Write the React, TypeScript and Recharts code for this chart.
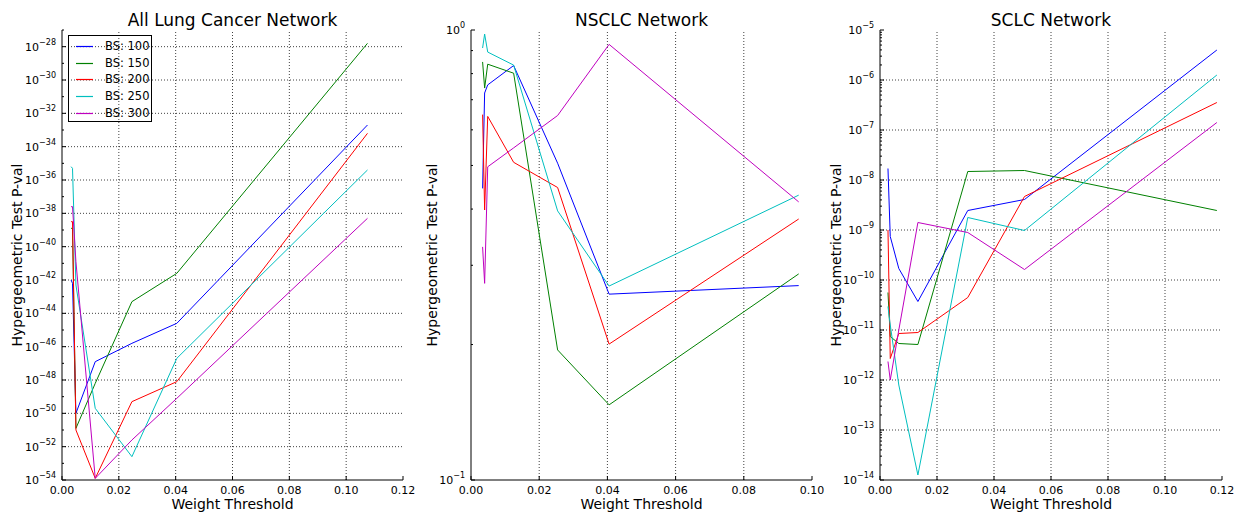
import React from 'react';
import { LineChart, Line, XAxis, YAxis, ReferenceLine } from 'recharts';

const FONT = '"DejaVu Sans", sans-serif';

const seriesNames = ['BS: 100', 'BS: 150', 'BS: 200', 'BS: 250', 'BS: 300'];
const seriesColors = ['#0000ff', '#008000', '#ff0000', '#00bfbf', '#bf00bf'];

// All Lung Cancer Network: weight thresholds and log10(p-value) per BS
const lungX = [0.0032, 0.0037, 0.0049, 0.0117, 0.0246, 0.0404, 0.1075];
const lung100 = [-42.0, -42.2, -50.0, -46.9, -45.8, -44.6, -32.7];
const lung150 = [-38.9, -38.9, -50.9, -48.2, -43.3, -41.6, -27.8];
const lung200 = [-38.5, -38.5, -51.0, -53.9, -49.3, -48.1, -33.2];
const lung250 = [-35.2, -35.3, -42.3, -49.7, -52.6, -46.7, -35.4];
const lung300 = [-37.6, -37.6, -40.9, -53.9, -51.6, -49.1, -38.3];

// NSCLC Network
const nsclcX = [0.0034, 0.004, 0.0049, 0.0125, 0.0254, 0.0405, 0.0961];
const nsclc100 = [-0.352, -0.14, -0.122, -0.079, -0.296, -0.587, -0.568];
const nsclc150 = [-0.071, -0.129, -0.076, -0.096, -0.711, -0.833, -0.542];
const nsclc200 = [-0.188, -0.4, -0.192, -0.294, -0.35, -0.698, -0.42];
const nsclc250 = [-0.04, -0.009, -0.049, -0.078, -0.402, -0.569, -0.367];
const nsclc300 = [-0.482, -0.563, -0.304, -0.262, -0.19, -0.032, -0.382];

// SCLC Network
const sclcX = [0.0028, 0.0036, 0.0066, 0.0133, 0.0308, 0.0507, 0.1182];
const sclc100 = [-7.77, -9.13, -9.77, -10.43, -8.61, -8.39, -5.4];
const sclc150 = [-10.25, -11.13, -11.27, -11.29, -7.83, -7.81, -8.61];
const sclc200 = [-9.0, -11.57, -11.07, -11.05, -10.35, -8.33, -6.45];
const sclc250 = [-10.53, -10.9, -12.1, -13.9, -8.75, -9.01, -5.9];
const sclc300 = [-11.63, -12.0, -11.0, -8.85, -9.05, -9.79, -6.85];

// axis ticks
const lungXTicks = [0, 0.02, 0.04, 0.06, 0.08, 0.1, 0.12];
const lungYMajor = [-54, -52, -50, -48, -46, -44, -42, -40, -38, -36, -34, -32, -30, -28];
const lungYMinor = [-53, -51, -49, -47, -45, -43, -41, -39, -37, -35, -33, -31, -29, -27];
const nsclcXTicks = [0, 0.02, 0.04, 0.06, 0.08, 0.1];
const nsclcYMajor = [-1, 0];
const sclcXTicks = [0, 0.02, 0.04, 0.06, 0.08, 0.1, 0.12];
const sclcYMajor = [-14, -13, -12, -11, -10, -9, -8, -7, -6, -5];

// log-scale minor tick positions (2..9 within each decade)
const logMinors = (lo: number, hi: number) => {
  const out: number[] = [];
  for (let d = lo; d < hi; d++) for (let k = 2; k <= 9; k++) out.push(d + Math.log10(k));
  return out;
};

const fmtExp = (v: number) => (v < 0 ? '\u2212' + Math.abs(v) : String(v));

type PanelProps = {
  left: number;
  width: number;
  plotLeft: number;
  plotRight: number;
  title: string;
  xMax: number;
  xTicks: number[];
  yMin: number;
  yMax: number;
  yMajor: number[];
  yMinor: number[];
  yGrid: boolean;
  yLabelX: number;
  xs: number[];
  ys: number[][];
  legend?: boolean;
};

function Panel(p: PanelProps) {
  const yTicks = [...p.yMajor, ...p.yMinor].sort((a, b) => a - b);
  const cx = (p.plotLeft + p.plotRight) / 2 - p.left;
  const isMajor = (v: number) => p.yMajor.some((m) => Math.abs(m - v) < 1e-9);

  const xTickBottom = (t: any) => (
    <g>
      <line x1={t.x} x2={t.x} y1={t.y} y2={t.y - 4} stroke="#000" />
      <text x={t.x} y={t.y + 13.5} textAnchor="middle" fontSize={11} fontFamily={FONT} fill="#000">
        {t.payload.value.toFixed(2)}
      </text>
    </g>
  );
  const xTickTop = (t: any) => <line x1={t.x} x2={t.x} y1={t.y} y2={t.y + 4} stroke="#000" />;
  const yTickLeft = (t: any) => {
    const major = isMajor(t.payload.value);
    return (
      <g>
        <line x1={t.x} x2={t.x + (major ? 4 : 2)} y1={t.y} y2={t.y} stroke="#000" />
        {major && (
          <text x={t.x - 6} y={t.y + 4} textAnchor="end" fontSize={11} fontFamily={FONT} fill="#000">
            10<tspan dy={-6} fontSize={8}>{fmtExp(t.payload.value)}</tspan>
          </text>
        )}
      </g>
    );
  };
  const yTickRight = (t: any) => {
    const major = isMajor(t.payload.value);
    return <line x1={t.x} x2={t.x - (major ? 4 : 2)} y1={t.y} y2={t.y} stroke="#000" />;
  };

  const gridX = p.xTicks.filter((v) => v > 0 && v < p.xMax);
  const gridY = p.yGrid ? p.yMajor.filter((v) => v > p.yMin && v < p.yMax) : [];

  return (
    <div style={{ position: 'absolute', left: p.left, top: 0 }}>
      <LineChart
        width={p.width}
        height={517}
        margin={{ top: 30, right: p.width - (p.plotRight - p.left), bottom: 0, left: 0 }}
      >
        <XAxis
          xAxisId="b"
          type="number"
          dataKey="x"
          domain={[0, p.xMax]}
          ticks={p.xTicks}
          interval={0}
          allowDataOverflow
          height={37}
          tickSize={0}
          tickMargin={0}
          tickLine={false}
          axisLine={{ stroke: '#000' }}
          tick={xTickBottom}
          label={() => (
            <text x={cx} y={508.5} textAnchor="middle" fontSize={14} fontFamily={FONT} fill="#000">
              Weight Threshold
            </text>
          )}
        />
        <XAxis
          xAxisId="t"
          orientation="top"
          type="number"
          dataKey="x"
          domain={[0, p.xMax]}
          ticks={p.xTicks}
          interval={0}
          allowDataOverflow
          height={0}
          tickSize={0}
          tickMargin={0}
          tickLine={false}
          axisLine={{ stroke: '#000' }}
          tick={xTickTop}
        />
        <YAxis
          yAxisId="l"
          type="number"
          domain={[p.yMin, p.yMax]}
          ticks={yTicks}
          interval={0}
          allowDataOverflow
          width={p.plotLeft - p.left}
          tickSize={0}
          tickMargin={0}
          tickLine={false}
          axisLine={{ stroke: '#000' }}
          tick={yTickLeft}
          label={() => (
            <g>
              <text x={cx} y={26} textAnchor="middle" fontSize={17} fontFamily={FONT} fill="#000">
                {p.title}
              </text>
              <text
                x={p.yLabelX}
                y={255}
                transform={`rotate(-90, ${p.yLabelX}, 255)`}
                textAnchor="middle"
                fontSize={14}
                fontFamily={FONT}
                fill="#000"
              >
                Hypergeometric Test P-val
              </text>
            </g>
          )}
        />
        <YAxis
          yAxisId="r"
          orientation="right"
          type="number"
          domain={[p.yMin, p.yMax]}
          ticks={yTicks}
          interval={0}
          allowDataOverflow
          width={0}
          tickSize={0}
          tickMargin={0}
          tickLine={false}
          axisLine={{ stroke: '#000' }}
          tick={yTickRight}
        />
        {gridX.map((v) => (
          <ReferenceLine key={'gx' + v} x={v} xAxisId="b" yAxisId="l" stroke="#000" strokeOpacity={0.75} strokeDasharray="1 2" />
        ))}
        {gridY.map((v) => (
          <ReferenceLine key={'gy' + v} y={v} xAxisId="b" yAxisId="l" stroke="#000" strokeOpacity={0.75} strokeDasharray="1 2" />
        ))}
        {p.ys.map((vals, i) => (
          <Line
            key={seriesNames[i]}
            name={seriesNames[i]}
            xAxisId="b"
            yAxisId="l"
            data={p.xs.map((x, j) => ({ x, y: vals[j] }))}
            dataKey="y"
            type="linear"
            stroke={seriesColors[i]}
            strokeWidth={1}
            dot={false}
            isAnimationActive={false}
          />
        ))}
      </LineChart>
      {p.legend && (
        <div
          style={{
            position: 'absolute',
            left: 68 - p.left,
            top: 35,
            width: 84,
            height: 87,
            border: '1px solid #000',
            boxSizing: 'border-box',
            fontFamily: FONT,
            fontSize: 11.5,
          }}
        >
          {seriesNames.map((n, i) => (
            <div key={n} style={{ position: 'absolute', left: 0, top: 3 + i * 16.7, height: 14, width: 84 }}>
              <svg width={20} height={14} style={{ position: 'absolute', left: 6, top: 0 }}>
                <line x1={1} x2={18} y1={7.5} y2={7.5} stroke={seriesColors[i]} strokeWidth={1.2} />
              </svg>
              <div style={{ position: 'absolute', left: 36, top: 0, lineHeight: '14px', whiteSpace: 'nowrap' }}>{n}</div>
            </div>
          ))}
        </div>
      )}
    </div>
  );
}

export default function App() {
  return (
    <div style={{ position: 'absolute', left: 0, top: 0, width: 1239, height: 517, background: '#fff' }}>
      <Panel
        left={0}
        width={420}
        plotLeft={62}
        plotRight={403}
        title="All Lung Cancer Network"
        xMax={0.12}
        xTicks={lungXTicks}
        yMin={-54}
        yMax={-27}
        yMajor={lungYMajor}
        yMinor={lungYMinor}
        yGrid
        yLabelX={22}
        xs={lungX}
        ys={[lung100, lung150, lung200, lung250, lung300]}
        legend
      />
      <Panel
        left={415}
        width={415}
        plotLeft={471}
        plotRight={812}
        title="NSCLC Network"
        xMax={0.1}
        xTicks={nsclcXTicks}
        yMin={-1}
        yMax={0}
        yMajor={nsclcYMajor}
        yMinor={logMinors(-1, 0)}
        yGrid={false}
        yLabelX={22}
        xs={nsclcX}
        ys={[nsclc100, nsclc150, nsclc200, nsclc250, nsclc300]}
      />
      <Panel
        left={820}
        width={419}
        plotLeft={880}
        plotRight={1222}
        title="SCLC Network"
        xMax={0.12}
        xTicks={sclcXTicks}
        yMin={-14}
        yMax={-5}
        yMajor={sclcYMajor}
        yMinor={logMinors(-14, -5)}
        yGrid
        yLabelX={21}
        xs={sclcX}
        ys={[sclc100, sclc150, sclc200, sclc250, sclc300]}
      />
    </div>
  );
}
